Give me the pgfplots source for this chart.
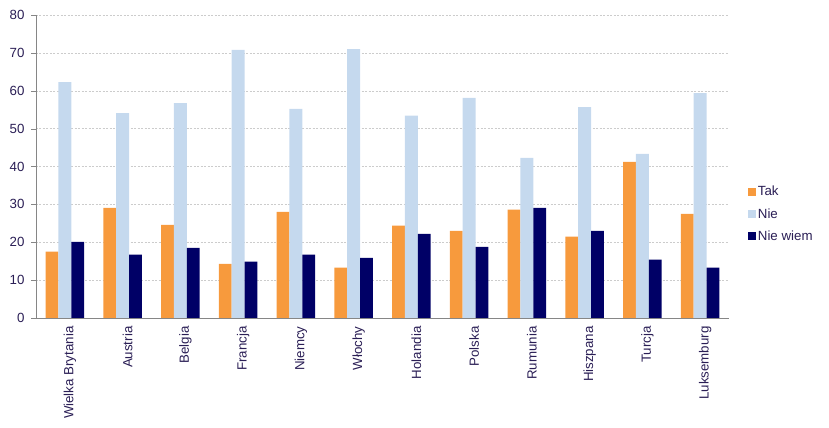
\documentclass[border=0pt]{standalone}
\usepackage{pgfplots}
\pgfplotsset{compat=1.18}
\usepackage{fontspec}
\setmainfont{Liberation Sans}
\definecolor{cTak}{HTML}{F79A3D}
\definecolor{cNie}{HTML}{C5D9EE}
\definecolor{cNW}{HTML}{000066}
\definecolor{ctext}{HTML}{2A1E55}
\definecolor{caxis}{HTML}{868686}
\definecolor{cgrid}{HTML}{CCCCCC}
\begin{document}
\begin{tikzpicture}
\begin{axis}[
  scale only axis,
  width=693pt, height=303pt,
  ybar=0pt, bar width=0.222,
  xmin=-0.5, xmax=11.5, ymin=0, ymax=80,
  axis lines*=left,
  axis line style={caxis},
  tick align=outside,
  tick style={caxis},
  major tick length=5pt,
  ytick={0,10,...,80},
  ymajorgrids,
  major grid style={cgrid, dash pattern=on 2pt off 1.5pt},
  xtick={0,...,11},
  xticklabels={Wielka Brytania,Austria,Belgia,Francja,Niemcy,Włochy,Holandia,Polska,Rumunia,Hiszpana,Turcja,Luksemburg},
  x tick style={draw=none},
  extra x ticks={-0.5,0.5,...,11.5},
  extra x tick labels={},
  extra x tick style={tick style={caxis, draw=caxis}, major tick length=5pt},
  xticklabel style={rotate=90, anchor=east, yshift=-5pt, font=\fontsize{13.3}{16}\selectfont, text=ctext},
  yticklabel style={font=\fontsize{13.3}{16}\selectfont, text=ctext, xshift=-3pt},
  /pgf/number format/assume math mode=true,
  legend style={draw=none, fill=none, at={(1.027,0.343)}, anchor=west, inner sep=0pt,
    font=\fontsize{13.3}{16}\selectfont, text=ctext, row sep=7pt,
    /tikz/every even column/.append style={column sep=0pt}},
  legend cell align=left,
  legend image code/.code={\fill[#1] (0pt,-4pt) rectangle (8pt,4pt);},
]
\addplot[fill=cTak, draw=none] coordinates {(0,17.5) (1,29.1) (2,24.6) (3,14.3) (4,28.0) (5,13.3) (6,24.4) (7,23.0) (8,28.6) (9,21.5) (10,41.2) (11,27.5)};
\addplot[fill=cNie, draw=none] coordinates {(0,62.3) (1,54.1) (2,56.7) (3,70.8) (4,55.2) (5,71.0) (6,53.4) (7,58.1) (8,42.3) (9,55.7) (10,43.3) (11,59.4)};
\addplot[fill=cNW, draw=none] coordinates {(0,20.1) (1,16.7) (2,18.5) (3,14.9) (4,16.7) (5,15.9) (6,22.2) (7,18.8) (8,29.1) (9,23.0) (10,15.4) (11,13.3)};
\legend{Tak,Nie,Nie wiem}
\end{axis}
\path (current axis.south west) ++(-36pt,-110pt) coordinate (bl);
\path (current axis.north east) ++(100pt,15pt) coordinate (tr);
\useasboundingbox (bl) rectangle (tr);
\end{tikzpicture}
\end{document}
